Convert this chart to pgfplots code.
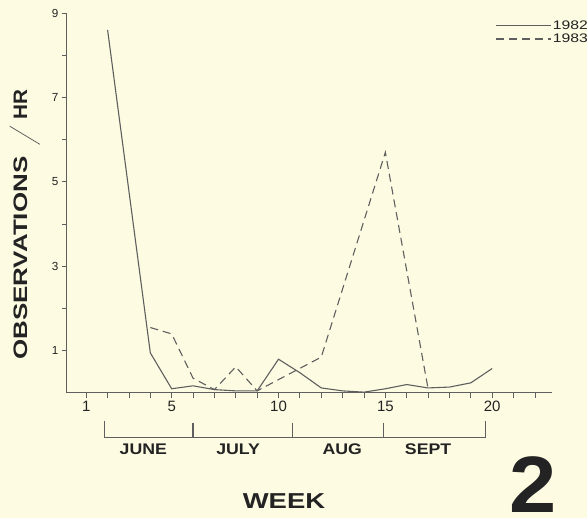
\documentclass[border=0pt]{standalone}
\usepackage{fontspec}
\setmainfont{Liberation Sans}
\usepackage{graphicx}
\usepackage{pgfplots}
\pgfplotsset{compat=1.18}
\definecolor{bg}{RGB}{253,251,226}
\definecolor{ln}{RGB}{95,95,95}
\definecolor{tx}{RGB}{35,35,35}
\begin{document}
\begin{tikzpicture}
\path[use as bounding box, fill=bg] (0pt,0pt) rectangle (587pt,518pt);
\begin{axis}[
  at={(67pt,125pt)}, anchor=south west,
  scale only axis, width=485pt, height=380pt,
  xmin=0.1, xmax=22.8, ymin=0, ymax=9,
  axis lines=left, axis line style={-, ln, line width=1pt},
  clip=false,
  xtick={1,5,10,15,20},
  minor xtick={2,3,4,6,7,8,9,11,12,13,14,16,17,18,19,21,22},
  ytick={1,3,5,7,9}, minor ytick={2,4,6,8},
  tick align=outside, major tick length=5pt, minor tick length=5pt,
  tick style={ln, line width=0.8pt},
  /pgf/number format/assume math mode=true,
  xticklabel style={font=\fontsize{15}{15}\selectfont, text=tx},
  yticklabel style={font=\fontsize{11.7}{12}\selectfont, text=tx},
  legend style={at={(0.8825,0.984)}, anchor=north west, draw=none, fill=none,
    inner sep=0pt, row sep=0pt, text=tx,
    font=\fontsize{12.4}{13}\selectfont,
    nodes={inner sep=1.5pt}},
  legend cell align=left,
  legend image code/.code={\draw[#1] (0pt,0pt) -- (55pt,0pt);},
]
\addplot[ln, line width=1.1pt] coordinates {
 (2,8.6) (4,0.95) (5,0.1) (6,0.17) (7,0.08) (8,0.05) (9,0.05) (10,0.8)
 (11,0.48) (12,0.12) (13,0.05) (14,0.02) (15,0.1) (16,0.2) (17,0.12)
 (18,0.14) (19,0.24) (20,0.58)};
\addlegendentry{\scalebox{1.27}[1]{1982}}
\addplot[ln, line width=1.1pt, dash pattern=on 8pt off 5pt] coordinates {
 (4,1.55) (5,1.4) (6,0.35) (7,0.08) (8,0.62) (9,0.05) (12,0.85)
 (15,5.7) (17,0.1)};
\addlegendentry{\scalebox{1.27}[1]{1983}}
% month brackets
\draw[ln, line width=0.9pt] ([yshift=-28pt]axis cs:1.85,0) -- ([yshift=-44pt]axis cs:1.85,0)
  -- ([yshift=-44pt]axis cs:19.67,0) -- ([yshift=-28pt]axis cs:19.67,0);
\draw[ln, line width=1.2pt] ([yshift=-30pt]axis cs:6,0) -- ([yshift=-44pt]axis cs:6,0);
\draw[ln, line width=1.2pt] ([yshift=-30pt]axis cs:10.64,0) -- ([yshift=-44pt]axis cs:10.64,0);
\draw[ln, line width=1.2pt] ([yshift=-30pt]axis cs:14.9,0) -- ([yshift=-44pt]axis cs:14.9,0);
\node[anchor=base, text=tx, font=\fontsize{15.4}{16}\selectfont\bfseries] at ([yshift=-62pt]axis cs:3.67,0) {\scalebox{1.15}[1]{JUNE}};
\node[anchor=base, text=tx, font=\fontsize{15.4}{16}\selectfont\bfseries] at ([yshift=-62pt]axis cs:8.11,0) {\scalebox{1.15}[1]{JULY}};
\node[anchor=base, text=tx, font=\fontsize{15.4}{16}\selectfont\bfseries] at ([yshift=-62pt]axis cs:12.98,0) {\scalebox{1.15}[1]{AUG}};
\node[anchor=base, text=tx, font=\fontsize{15.4}{16}\selectfont\bfseries] at ([yshift=-62pt]axis cs:17.0,0) {\scalebox{1.15}[1]{SEPT}};
\end{axis}
% axis titles
\node[anchor=base, text=tx, font=\fontsize{21.6}{22}\selectfont\bfseries] at (284pt,9pt) {\scalebox{1.27}[1]{WEEK}};
\node[anchor=south, inner sep=0pt, text=tx, font=\fontsize{80}{80}\selectfont\bfseries] at (533.5pt,5pt) {\scalebox{1.06}[1]{2}};
\node[rotate=90, anchor=base west, inner sep=0pt, text=tx, font=\fontsize{19.5}{20}\selectfont\bfseries] at (27pt,158pt)
  {\scalebox{1.33}[1]{OBSERVATIONS}\hspace{12pt}\raisebox{-13pt}{\rotatebox{59}{\color{ln}\rule{35pt}{0.8pt}}}\hspace{6pt}\scalebox{1.06}[1]{HR}};
\end{tikzpicture}
\end{document}
